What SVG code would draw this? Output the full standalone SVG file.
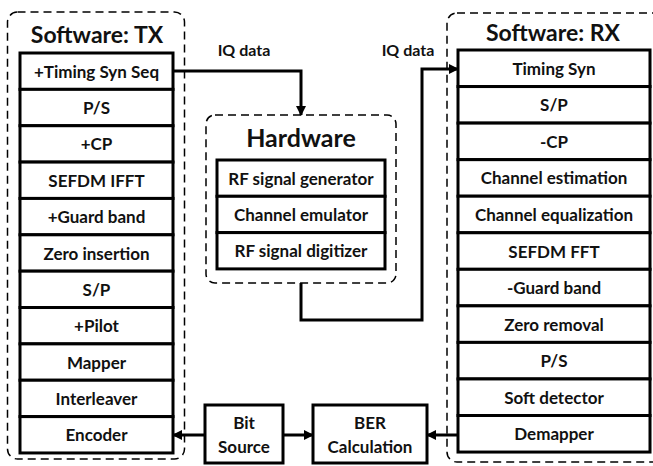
<svg xmlns="http://www.w3.org/2000/svg" width="653" height="466" viewBox="0 0 653 466">
<style>
.bg{fill:#fff}
.cont{fill:none;stroke:#000;stroke-width:1.5;stroke-dasharray:8 5}
.box{fill:#fff;stroke:#000;stroke-width:3}
.t{font-family:Lato,"Open Sans",sans-serif;font-weight:bold;font-size:17px;text-anchor:middle;dominant-baseline:central;fill:#111}
.title{font-family:Lato,"Open Sans",sans-serif;font-weight:bold;font-size:23px;text-anchor:middle;dominant-baseline:central;fill:#111}
.lbl{font-family:Lato,"Open Sans",sans-serif;font-weight:bold;font-size:16px;text-anchor:middle;dominant-baseline:central;fill:#111}
.con{fill:none;stroke:#000;stroke-width:3}
</style>
<defs>
<marker id="ah" markerWidth="10" markerHeight="10" refX="9" refY="5" orient="auto" markerUnits="userSpaceOnUse">
<path d="M0,0 L10,5 L0,10 z" fill="#000"/>
</marker>
</defs>
<rect class="bg" x="0" y="0" width="653" height="466"/>

<g id="tx">
<rect class="cont" x="7.5" y="12" width="177" height="447" rx="10"/>
<text class="title" x="97" y="34">Software: TX</text>
<g id="tx1"><rect class="box" x="20" y="53" width="153" height="36.36"/><text class="t" x="96.5" y="71.2">+Timing Syn Seq</text></g>
<g id="tx2"><rect class="box" x="20" y="89.36" width="153" height="36.36"/><text class="t" x="96.5" y="107.5">P/S</text></g>
<g id="tx3"><rect class="box" x="20" y="125.72" width="153" height="36.36"/><text class="t" x="96.5" y="143.9">+CP</text></g>
<g id="tx4"><rect class="box" x="20" y="162.08" width="153" height="36.36"/><text class="t" x="96.5" y="180.3">SEFDM IFFT</text></g>
<g id="tx5"><rect class="box" x="20" y="198.44" width="153" height="36.36"/><text class="t" x="96.5" y="216.6">+Guard band</text></g>
<g id="tx6"><rect class="box" x="20" y="234.8" width="153" height="36.36"/><text class="t" x="96.5" y="253">Zero insertion</text></g>
<g id="tx7"><rect class="box" x="20" y="271.16" width="153" height="36.36"/><text class="t" x="96.5" y="289.3">S/P</text></g>
<g id="tx8"><rect class="box" x="20" y="307.52" width="153" height="36.36"/><text class="t" x="96.5" y="325.7">+Pilot</text></g>
<g id="tx9"><rect class="box" x="20" y="343.88" width="153" height="36.36"/><text class="t" x="96.5" y="362">Mapper</text></g>
<g id="tx10"><rect class="box" x="20" y="380.24" width="153" height="36.36"/><text class="t" x="96.5" y="398.4">Interleaver</text></g>
<g id="tx11"><rect class="box" x="20" y="416.6" width="153" height="36.36"/><text class="t" x="96.5" y="434.8">Encoder</text></g>
</g>

<g id="hw">
<rect class="cont" x="206" y="115" width="190" height="168" rx="9"/>
<text class="title" x="301" y="137" style="font-size:25px">Hardware</text>
<g id="hw1"><rect class="box" x="217" y="160" width="168" height="36.3"/><text class="t" x="301" y="178.2">RF signal generator</text></g>
<g id="hw2"><rect class="box" x="217" y="196.3" width="168" height="36.3"/><text class="t" x="301" y="214.5">Channel emulator</text></g>
<g id="hw3"><rect class="box" x="217" y="232.6" width="168" height="36.3"/><text class="t" x="301" y="250.8">RF signal digitizer</text></g>
</g>

<g id="rx">
<rect class="cont" x="447" y="13" width="215" height="449" rx="10"/>
<text class="title" x="553" y="32">Software: RX</text>
<g id="rx1"><rect class="box" x="458" y="50" width="192" height="36.55"/><text class="t" x="554" y="68.3">Timing Syn</text></g>
<g id="rx2"><rect class="box" x="458" y="86.55" width="192" height="36.55"/><text class="t" x="554" y="104.8">S/P</text></g>
<g id="rx3"><rect class="box" x="458" y="123.1" width="192" height="36.55"/><text class="t" x="554" y="141.4">-CP</text></g>
<g id="rx4"><rect class="box" x="458" y="159.65" width="192" height="36.55"/><text class="t" x="554" y="177.9">Channel estimation</text></g>
<g id="rx5"><rect class="box" x="458" y="196.2" width="192" height="36.55"/><text class="t" x="554" y="214.5">Channel equalization</text></g>
<g id="rx6"><rect class="box" x="458" y="232.75" width="192" height="36.55"/><text class="t" x="554" y="251">SEFDM FFT</text></g>
<g id="rx7"><rect class="box" x="458" y="269.3" width="192" height="36.55"/><text class="t" x="554" y="287.6">-Guard band</text></g>
<g id="rx8"><rect class="box" x="458" y="305.85" width="192" height="36.55"/><text class="t" x="554" y="324.1">Zero removal</text></g>
<g id="rx9"><rect class="box" x="458" y="342.4" width="192" height="36.55"/><text class="t" x="554" y="360.7">P/S</text></g>
<g id="rx10"><rect class="box" x="458" y="378.95" width="192" height="36.55"/><text class="t" x="554" y="397.2">Soft detector</text></g>
<g id="rx11"><rect class="box" x="458" y="415.5" width="192" height="36.55"/><text class="t" x="554" y="433.8">Demapper</text></g>
</g>

<g id="bitsource"><rect class="box" x="205" y="405" width="78" height="58"/><text class="t" x="244" y="422">Bit</text><text class="t" x="244" y="446">Source</text></g>
<g id="ber"><rect class="box" x="313" y="405" width="114" height="58"/><text class="t" x="370" y="422">BER</text><text class="t" x="370" y="446">Calculation</text></g>

<g id="connectors">
<path class="con" d="M173,71 H301 V115" marker-end="url(#ah)"/>
<path class="con" d="M301,283 V320 H422 V69 H458" marker-end="url(#ah)"/>
<path class="con" d="M205,435 H173" marker-end="url(#ah)"/>
<path class="con" d="M283,435 H313" marker-end="url(#ah)"/>
<path class="con" d="M458,435 H427" marker-end="url(#ah)"/>
<text class="lbl" x="244" y="49">IQ data</text>
<text class="lbl" x="408" y="49">IQ data</text>
</g>
</svg>
